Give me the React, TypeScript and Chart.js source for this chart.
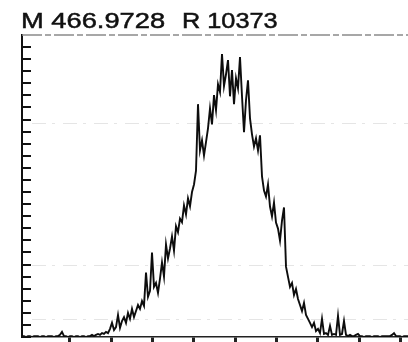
import React, { useEffect, useRef } from "react";
import { Chart, registerables } from "chart.js";

Chart.register(...registerables);

const titleMass = "M 466.9728";
const titleRes = "R 10373";

// sampling of the profile spectrum (m/z of first sample, spacing between samples)
const mzStart = 466.846;
const mzStep = 0.00121;

// relative intensity (%)
const intensity = [
  0.3, 0.3, 0.0, 0.3, 0.3, 0.0, 0.3, 0.3, 0.3, 0.0,
  0.3, 0.3, 0.0, 0.3, 0.3, 0.3, 0.0, 0.3, 0.3, 0.7,
  1.7, 0.3, 0.3, 0.0, 0.3, 0.3, 0.0, 0.3, 0.3, 0.0,
  0.3, 0.3, 0.0, 0.3, 0.3, 0.7, 0.3, 0.7, 1.0, 0.7,
  1.3, 1.0, 1.7, 1.3, 2.7, 4.7, 2.3, 3.3, 7.3, 3.0,
  5.3, 6.6, 4.7, 8.0, 6.0, 9.3, 6.6, 8.6, 10.6, 9.3,
  11.9, 10.3, 21.3, 13.3, 15.3, 28.0, 16.6, 17.9, 14.6, 19.3,
  24.7, 20.0, 30.6, 26.0, 29.3, 33.3, 28.6, 36.7, 34.7, 39.2,
  38.0, 43.6, 40.6, 45.9, 43.3, 48.0, 50.5, 55.1, 77.1, 61.8,
  65.1, 60.1, 64.5, 69.1, 75.7, 70.4, 80.1, 75.1, 83.7, 81.1,
  93.7, 83.1, 87.0, 91.7, 79.7, 88.4, 77.1, 85.7, 82.4, 92.7,
  79.7, 67.8, 78.4, 85.0, 72.4, 67.1, 63.1, 65.8, 61.8, 66.8,
  53.2, 48.5, 46.5, 50.5, 43.2, 39.9, 44.5, 37.9, 35.9, 31.9,
  38.5, 42.9, 23.3, 19.9, 16.6, 17.9, 13.9, 15.9, 12.6, 10.6,
  8.6, 11.3, 7.3, 6.0, 4.7, 3.3, 4.7, 2.0, 2.7, 1.3,
  6.0, 1.0, 1.3, 0.7, 3.7, 0.7, 1.0, 0.7, 7.0, 0.7,
  1.0, 5.3, 0.7, 0.3, 0.7, 0.3, 0.3, 0.7, 1.0, 0.3,
  0.3, 0.0, 0.3, 0.3, 0.3, 0.0, 0.3, 0.3, 0.3, 0.0,
  0.3, 0.3, 0.3, 0.3, 0.3, 0.7, 1.3, 0.3, 0.3, 0.3,
  0.0, 0.3, 0.3, 0.3,
];

const xTickValues = [466.875, 466.9, 466.925, 466.95, 466.975, 467.0, 467.025, 467.05, 467.075];
const yTickValues = [0, 4, 8, 12, 16, 20, 24, 28, 32, 36, 40, 44, 48, 52, 56, 60, 64, 68, 72, 76, 80, 84, 88, 92, 96];
const faintGridValues = [71, 24, 6];

const decorPlugin = {
  id: "decor",
  beforeDatasetsDraw(chart: any) {
    const { ctx, chartArea, scales } = chart;
    const y = scales.y;
    ctx.save();
    ctx.strokeStyle = "rgba(0,0,0,0.1)";
    ctx.lineWidth = 1;
    ctx.setLineDash([14, 6, 3, 8]);
    for (const v of faintGridValues) {
      const py = Math.round(y.getPixelForValue(v)) + 0.5;
      ctx.beginPath();
      ctx.moveTo(chartArea.left + 10, py);
      ctx.lineTo(chartArea.right, py);
      ctx.stroke();
    }
    // top frame
    ctx.setLineDash([20, 3, 6, 3]);
    ctx.strokeStyle = "#8a8a8a";
    ctx.lineWidth = 1.5;
    ctx.beginPath();
    ctx.moveTo(chartArea.left, chartArea.top);
    ctx.lineTo(chartArea.right, chartArea.top);
    ctx.stroke();
    ctx.restore();
  },
  afterDraw(chart: any) {
    const { ctx, chartArea, scales } = chart;
    const y = scales.y;
    ctx.save();
    ctx.strokeStyle = "#111";
    ctx.lineWidth = 2;
    for (const v of yTickValues) {
      const py = Math.round(y.getPixelForValue(v));
      ctx.beginPath();
      ctx.moveTo(chartArea.left, py);
      ctx.lineTo(chartArea.left + 9, py);
      ctx.stroke();
    }
    ctx.restore();
  },
};

export default function App() {
  const ref = useRef<HTMLCanvasElement | null>(null);

  useEffect(() => {
    const canvas = ref.current;
    if (!canvas) return;
    const points = intensity.map((v, i) => ({ x: mzStart + i * mzStep, y: v }));
    const chart = new Chart(canvas, {
      type: "line",
      data: {
        datasets: [
          {
            data: points,
            borderColor: "#0d0d0d",
            borderWidth: 1.9,
            pointRadius: 0,
            tension: 0,
            fill: false,
          },
        ],
      },
      options: {
        animation: false,
        responsive: false,
        devicePixelRatio: 1,
        events: [],
        layout: { padding: { left: 22, right: 0, top: 35, bottom: 0 } },
        plugins: { legend: { display: false }, tooltip: { enabled: false }, title: { display: false } },
        scales: {
          x: {
            type: "linear",
            min: mzStart,
            max: mzStart + (intensity.length - 1) * mzStep,
            afterBuildTicks: (scale: any) => {
              scale.ticks = xTickValues.map((v) => ({ value: v }));
            },
            grid: {
              display: true,
              drawOnChartArea: false,
              drawTicks: true,
              tickLength: 5,
              tickWidth: 3,
              tickColor: "#222",
            },
            border: { display: true, color: "#222", width: 1.5 },
            ticks: { display: false },
          },
          y: {
            type: "linear",
            min: 0,
            max: 100,
            grid: { display: false, drawTicks: false },
            border: { display: true, color: "#111", width: 2 },
            ticks: { display: false },
          },
        },
      },
      plugins: [decorPlugin],
    });
    return () => chart.destroy();
  }, []);

  const titleStyle: React.CSSProperties = {
    position: "absolute",
    top: 10,
    fontFamily: "'Liberation Sans', Arial, sans-serif",
    fontSize: 22,
    lineHeight: "22px",
    color: "#111",
    whiteSpace: "pre",
    transformOrigin: "left top",
    WebkitTextStroke: "0.5px #111",
  };

  return (
    <div style={{ position: "fixed", left: 0, top: 0, width: 408, height: 342, background: "#fff", overflow: "hidden" }}>
      <canvas ref={ref} width={408} height={342} style={{ display: "block", width: 408, height: 342 }} />
      <span style={{ ...titleStyle, left: 21, transform: "scaleX(1.24)" }}>{titleMass}</span>
      <span style={{ ...titleStyle, left: 182, transform: "scaleX(1.15)" }}>{titleRes}</span>
    </div>
  );
}
